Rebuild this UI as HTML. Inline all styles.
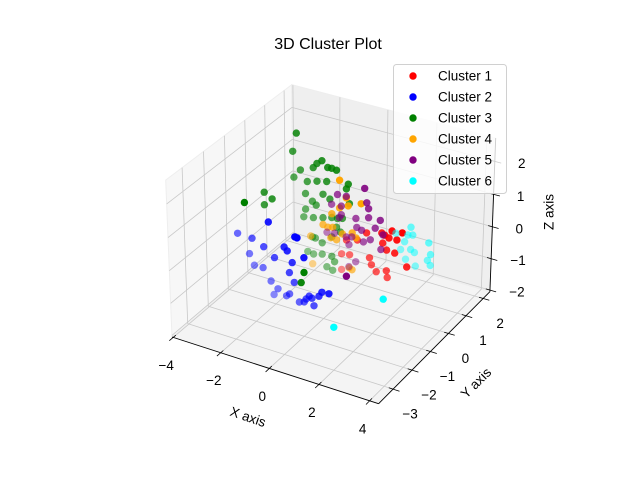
<!DOCTYPE html>
<html><head><meta charset="utf-8"><style>
body{margin:0;background:#fff}
svg{display:block;font-family:"Liberation Sans","DejaVu Sans",sans-serif}
</style></head><body>
<svg id="chart" width="640" height="480" viewBox="0 0 640 480">
<rect width="640" height="480" fill="#fff"/>
<text x="328" y="49" font-size="16" text-anchor="middle">3D Cluster Plot</text>
<g id="panes"></g><g id="grid"></g><g id="axes"></g><g id="points"></g>
<text x="248" y="417" font-size="13.5" text-anchor="middle" dominant-baseline="central" transform="rotate(19 248 417)">X axis</text>
<text x="476" y="383" font-size="13.5" text-anchor="middle" dominant-baseline="central" transform="rotate(-45 476 383)">Y axis</text>
<text x="549" y="212" font-size="13.5" text-anchor="middle" dominant-baseline="central" transform="rotate(-90 549 212)">Z axis</text>
<g id="legend"></g>
</svg>
<script>
const clusterNames = ["Cluster 1","Cluster 2","Cluster 3","Cluster 4","Cluster 5","Cluster 6"];
const clusterColors = ["red","blue","green","orange","purple","cyan"];
const xTicks = [-4,-2,0,2,4];
const yTicks = [-3,-2,-1,0,1,2];
const zTicks = [-2,-1,0,1,2];
const xLim = [-4.05,4.35], yLim = [-3.75,2.4], zLim = [-2.05,2.7];
// cluster 1 (red)
const c1x = [2.01,2.42,1.72,1.89,1.64,2.21,1.80,2.13,1.11,1.19,1.39,1.80,1.84,-0.04,-0.04,0.29,2.62,1.60,0.61,0.16,0.98];
const c1y = [0,0,0,0,0,0,0,0,0,0,0,0,0,0,0,0,0,0,0,0,0];
const c1z = [0.59,0.62,0.40,0.35,0.14,0.36,-0.04,-0.06,-0.43,-0.63,-0.80,-0.68,-0.88,-1.05,-0.56,-0.52,-0.38,0.44,0.01,-0.09,0.31];
// cluster 2 (blue)
const c2x = [-3.59,-2.98,-2.28,-3.10,-2.90,-2.53,-2.49,-2.04,-1.63,-1.50,-1.42,-1.30,-1.09,-0.81,-1.22,-2.20,-1.91,-2.08,-1.55,-1.42,-1.01,-0.81,-0.73,-0.48,-0.40,-0.60,-0.07,-0.19,0.22,-1.18];
const c2y = [-1,-1,-1,-1,-1,-1,-1,-1,-1,-1,-1,-1,-1,-1,-1,-1,-1,-1,-1,-1,-1,-1,-1,-1,-1,-1,-1,-1,-1,-1];
const c2z = [-0.18,-0.20,0.45,-0.71,-1.03,-1.02,-0.36,-0.60,-0.18,-0.27,-0.93,-0.59,0.22,-0.33,-1.19,-1.37,-1.55,-1.77,-1.69,-1.60,-1.76,-1.71,-1.60,-1.52,-1.74,-1.48,-1.24,-1.39,-1.22,0.23];
// cluster 3 (green)
const c3x = [-2.72,-2.88,-3.28,-2.95,-3.28,-3.27,-2.84,-2.56,-2.02,-1.65,-1.86,-1.41,-1.24,-1.04,-2.27,-1.86,-1.45,-2.35,-1.61,-2.06,-1.90,-2.35,-2.43,-2.02,-1.61,-1.24,-1.00,-1.32,-1.04,-1.94,-2.06,-1.65,-1.24,-0.55,-0.63,-2.27,-2.02,-1.65,-1.24,-1.12,-1.45,-1.20,-0.81,-0.93,-0.50,-0.79,-0.87];
const c3y = [1,1,0,0,0,-1,1,1,1,1,1,1,1,1,1,1,1,1,1,1,1,1,1,1,1,1,1,1,1,1,1,1,1,1,1,1,1,1,1,1,1,1,-1,-1,1,1,1];
const c3z = [2.11,1.52,0.66,0.52,0.27,0.84,0.73,1.01,1.19,1.48,1.35,1.32,1.33,1.31,0.71,0.80,0.88,0.32,0.45,0.14,0.05,-0.17,-0.43,-0.37,-0.28,-0.20,-0.18,0.36,-0.46,-1.00,-0.99,-1.09,-0.81,0.98,0.82,-1.50,-1.53,-1.45,-1.43,-1.58,-1.81,-1.87,-0.79,-1.13,0.39,-0.13,-0.58];
// cluster 4 (orange)
const c4x = [-0.91,-0.01,-0.55,-1.24,-1.61,-1.41,-1.20,-0.79,-1.28,-1.04,-2.14,-0.38,-0.22,-0.91,-2.06,-0.50,-0.38,-0.63];
const c4y = [1,1,1,1,1,1,1,1,1,1,1,1,1,1,1,1,1,1];
const c4z = [1.03,0.49,0.31,-0.08,-0.50,-0.54,-0.50,-0.62,-0.85,-0.86,-0.98,-0.50,-0.62,0.17,-1.85,-1.63,-1.67,0.54];
// cluster 5 (purple)
const c5x = [-0.25,-1.39,-1.02,-1.64,-1.23,-0.16,-0.08,-1.31,-1.23,-0.61,-0.57,-0.08,0.41,0.20,-1.52,-1.02,-0.90,-0.78,-0.29,0.53,0.45,0.00,-0.61,-0.90,0.16,-0.37,-1.84];
const c5y = [1.5,1.5,1.5,1.5,1.5,1.5,1.5,1.5,1.5,1.5,1.5,1.5,1.5,1.5,1.5,1.5,1.5,1.5,1.5,1.5,1.5,1.5,1.5,1.5,0,1.5,1.5];
const c5z = [0.67,0.24,0.26,-0.12,-0.09,0.24,0.07,-0.47,-0.36,-0.35,-0.62,-0.21,-0.19,-0.48,-1.01,-1.02,-1.24,-0.97,-1.02,-0.62,-1.10,-0.89,-1.73,-1.95,-1.22,-0.67,-1.05];
// cluster 6 (cyan)
const c6x = [1.68,1.76,1.56,1.43,1.27,1.68,1.84,1.48,1.89,2.42,2.50,2.38,2.50,1.07,2.43,1.21];
const c6y = [1.5,1.5,1.5,1.5,1.5,1.5,1.5,1.5,1.5,1.5,1.5,1.5,1.5,1.5,-1,-2];
const c6z = [-0.13,-0.36,-0.40,-0.64,-0.92,-0.83,-0.89,-1.18,-1.31,-0.46,-0.81,-1.02,-1.15,-0.45,-0.88,-1.48];

const clusterX=[c1x,c2x,c3x,c4x,c5x,c6x], clusterY=[c1y,c2y,c3y,c4y,c5y,c6y], clusterZ=[c1z,c2z,c3z,c4z,c5z,c6z];
const NS="http://www.w3.org/2000/svg";
function norm(v,l,s){return ((v-(l[0]+l[1])/2)/(l[1]-l[0]))*s;}
function proj(x,y,z){
  const X=norm(x,xLim,1),Y=norm(y,yLim,1),Z=norm(z,zLim,0.75);
  const d=X*0.433-Y*0.75+Z*0.5;
  const f=10/(10-d);
  const r=(X*0.866+Y*0.5)*f, u=(-X*0.25+Y*0.433+Z*0.866)*f;
  return [333.4+237*r, 237.8-239*u, d];
}
function mk(tag,attrs,parent){const e=document.createElementNS(NS,tag);for(const k in attrs)e.setAttribute(k,attrs[k]);parent.appendChild(e);return e;}
function poly(pts){return pts.map(p=>{const q=proj(p[0],p[1],p[2]);return q[0].toFixed(1)+","+q[1].toFixed(1);}).join(" ");}
const [x0,x1]=xLim,[y0,y1]=yLim,[z0,z1]=zLim;
const panes=document.getElementById('panes');
let p;
p=mk('polygon',{points:poly([[x0,y0,z0],[x1,y0,z0],[x1,y1,z0],[x0,y1,z0]]),fill:'#f4f4f4',stroke:'#eeeeee'},panes);


p=mk('polygon',{points:poly([[x0,y0,z0],[x0,y1,z0],[x0,y1,z1],[x0,y0,z1]]),fill:'#f7f7f7',stroke:'#eeeeee'},panes);


p=mk('polygon',{points:poly([[x0,y1,z0],[x1,y1,z0],[x1,y1,z1],[x0,y1,z1]]),fill:'#efefef',stroke:'#eeeeee'},panes);


const grid=document.getElementById('grid');
function line(a,b,par,st,w){const A=proj(...a),B=proj(...b);return mk('line',{x1:A[0].toFixed(1),y1:A[1].toFixed(1),x2:B[0].toFixed(1),y2:B[1].toFixed(1),stroke:st,'stroke-width':w},par);}
let l;
xTicks.forEach(t=>{l=line([t,y0,z0],[t,y1,z0],grid,'#c8c8c8',0.8);


l=line([t,y1,z0],[t,y1,z1],grid,'#c8c8c8',0.8);

});
yTicks.forEach(t=>{l=line([x0,t,z0],[x1,t,z0],grid,'#c8c8c8',0.8);


l=line([x0,t,z0],[x0,t,z1],grid,'#c8c8c8',0.8);

});
zTicks.forEach(t=>{l=line([x0,y0,t],[x0,y1,t],grid,'#c8c8c8',0.8);


l=line([x0,y1,t],[x1,y1,t],grid,'#c8c8c8',0.8);

});
const axes=document.getElementById('axes');
l=line([x0,y0,z0],[x1,y0,z0],axes,'#000',0.9);


l=line([x1,y0,z0],[x1,y1,z0],axes,'#000',0.9);


l=line([x1,y1,z0],[x1,y1,z1],axes,'#000',0.9);


function label(txt,x,y,name){const t=mk('text',{x:x.toFixed(1),y:y.toFixed(1),'font-size':13.5,'text-anchor':'middle','dominant-baseline':'central'},axes);t.textContent=txt;

}
const fmt=v=>v<0?'\u2212'+Math.abs(v):String(v);
xTicks.forEach(t=>{const dy=(y1-y0);l=line([t,y0+0.02*dy,z0],[t,y0-0.03*dy,z0],axes,'#000',0.8);


const P=proj(t,y0,z0);label(fmt(t),P[0]-7,P[1]+28,'x-tick-label');});
yTicks.forEach(t=>{const dx=(x1-x0);l=line([x1-0.02*dx,t,z0],[x1+0.03*dx,t,z0],axes,'#000',0.8);


const P=proj(x1,t,z0);label(fmt(t),P[0]+17,P[1]+25,'y-tick-label');});
zTicks.forEach(t=>{const dx=(x1-x0);l=line([x1-0.02*dx,y1,t],[x1+0.03*dx,y1,t],axes,'#000',0.8);


const P=proj(x1,y1,t);label(fmt(t),P[0]+27,P[1]+2,'z-tick-label');});
const pts=document.getElementById('points');
clusterNames.forEach((nm,ci)=>{
  const g=mk('g',{},pts);
  
  
  const arr=clusterX[ci].map((x,i)=>proj(x,clusterY[ci][i],clusterZ[ci][i]));
  const ds=arr.map(a=>a[2]);const dmin=Math.min(...ds),dmax=Math.max(...ds);
  arr.slice().sort((a,b)=>a[2]-b[2]).forEach(a=>{
    const al=dmax>dmin?0.45+0.55*(a[2]-dmin)/(dmax-dmin):1;
    const c=mk('circle',{cx:a[0].toFixed(1),cy:a[1].toFixed(1),r:3.7,fill:clusterColors[ci],'fill-opacity':al.toFixed(2)},g);
    
    
  });
});
const lg=document.getElementById('legend');
const box=mk('rect',{x:393.5,y:64.5,width:113,height:129,rx:3,fill:'#fff','fill-opacity':0.8,stroke:'#d0d0d0'},lg);


clusterNames.forEach((nm,i)=>{
  const y=76+i*21;
  const c=mk('circle',{cx:413,cy:y,r:3.7,fill:clusterColors[i]},lg);
  
  
  const t=mk('text',{x:438,y:y,'font-size':13.5,'dominant-baseline':'central'},lg);
  t.textContent=nm;
  
  
});
</script>
</body></html>
